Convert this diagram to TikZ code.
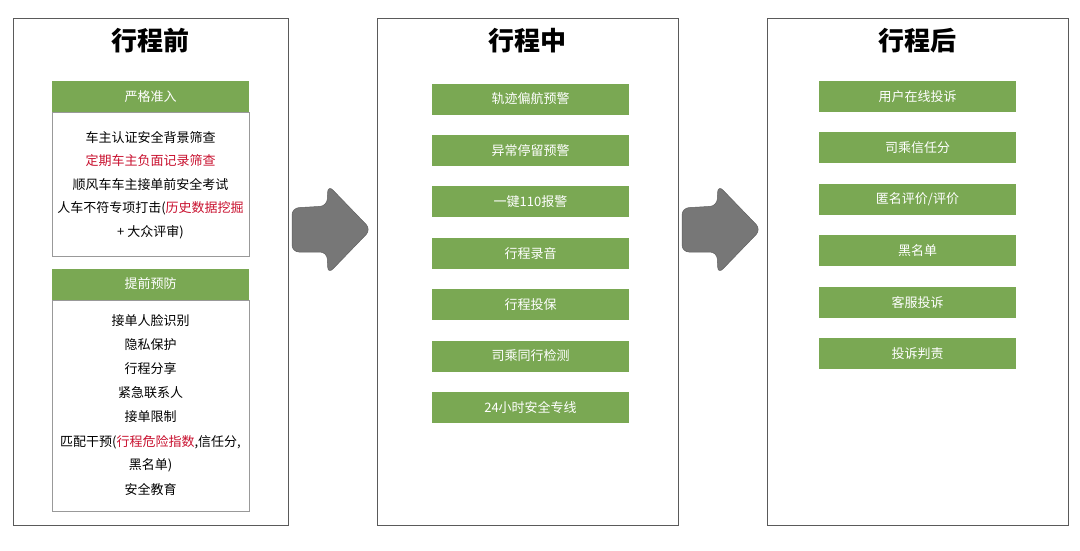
\documentclass[tikz,border=0pt]{standalone}
\usepackage{fontspec}
\setmainfont{Noto Sans CJK SC}
\usepackage{tikz}
\usetikzlibrary{
  arrows.meta,
  positioning
}
\definecolor{boxgreen}{HTML}{7AA853}
\definecolor{alertred}{HTML}{C8102E}
\definecolor{arrowgray}{HTML}{777777}
\definecolor{framegray}{HTML}{5A5A5A}
\tikzset{
  phase/.style={draw=framegray, line width=0.9pt},
  phasetitle/.style={font=\fontsize{26}{30}\selectfont\bfseries},
  greenbox/.style={fill=boxgreen, text=white, minimum width=197pt, minimum height=31pt,
    inner sep=0pt, font=\fontsize{13}{15}\selectfont},
  listbody/.style={draw=gray!80, line width=0.7pt},
  listline/.style={font=\fontsize{13}{15}\selectfont, inner sep=0pt},
  bigarrow/.style={fill=arrowgray, draw=arrowgray!80!black, line width=0.5pt, rounded corners=7pt}
}

\begin{document}
\begin{tikzpicture}[x=1pt,y=-1pt]
\useasboundingbox (0,0) rectangle (1080,550);
% three phases
\draw[phase] (13,18) rectangle (288,525);
\draw[phase] (377,18) rectangle (678,525);
\draw[phase] (767,18) rectangle (1068,525);
\node[phasetitle] (before) at (150.5,41) {行程前};
\node[phasetitle] (during) at (527.5,41) {行程中};
\node[phasetitle] (after) at (917.5,41) {行程后};

% before: two lists
\draw[listbody] (52,112) rectangle (249,256);
\node[greenbox] (admit) at (150.5,96.5) {严格准入};
\node[listline] (admit1) at (150.5,137) {车主认证安全背景筛查};
\node[listline, text=alertred] (admit2) at (150.5,160.5) {定期车主负面记录筛查};
\node[listline] (admit3) at (150.5,184.5) {顺风车车主接单前安全考试};
\node[listline] (admit4) at (150.5,208.5) {人车不符专项打击(\textcolor{alertred}{历史数据挖掘}};
\node[listline] (admit5) at (150.5,232) {+ 大众评审)};

\draw[listbody] (52,300) rectangle (249,511);
\node[greenbox] (prevent) at (150.5,284) {提前预防};
\node[listline] (prevent1) at (150.5,321) {接单人脸识别};
\node[listline] (prevent2) at (150.5,345) {隐私保护};
\node[listline] (prevent3) at (150.5,368.5) {行程分享};
\node[listline] (prevent4) at (150.5,393) {紧急联系人};
\node[listline] (prevent5) at (150.5,417) {接单限制};
\node[listline] (prevent6) at (150.5,442) {匹配干预(\textcolor{alertred}{行程危险指数},信任分,};
\node[listline] (prevent7) at (150.5,465.5) {黑名单)};
\node[listline] (prevent8) at (150.5,489.5) {安全教育};

% during
\node[greenbox] (track) at (530.5,99) {轨迹偏航预警};
\node[greenbox] (stop) at (530.5,150.4) {异常停留预警};
\node[greenbox] (alarm) at (530.5,201.8) {一键110报警};
\node[greenbox] (record) at (530.5,253.2) {行程录音};
\node[greenbox] (insure) at (530.5,304.6) {行程投保};
\node[greenbox] (detect) at (530.5,356) {司乘同行检测};
\node[greenbox] (hotline) at (530.5,407.4) {24小时安全专线};

% after
\node[greenbox] (complain) at (917.5,96.5) {用户在线投诉};
\node[greenbox] (trust) at (917.5,147.9) {司乘信任分};
\node[greenbox] (rating) at (917.5,199.3) {匿名评价/评价};
\node[greenbox] (blacklist) at (917.5,250.7) {黑名单};
\node[greenbox] (service) at (917.5,302.1) {客服投诉};
\node[greenbox] (judge) at (917.5,353.5) {投诉判责};

% block arrows between phases
\draw[bigarrow] (292,208) -- (327,206) -- (328,185) -- (371,229.5) -- (328,274) -- (327,252) -- (292,252) -- cycle;
\draw[bigarrow] (682,208) -- (717,206) -- (718,185) -- (761,229.5) -- (718,274) -- (717,252) -- (682,252) -- cycle;
\end{tikzpicture}
\end{document}
